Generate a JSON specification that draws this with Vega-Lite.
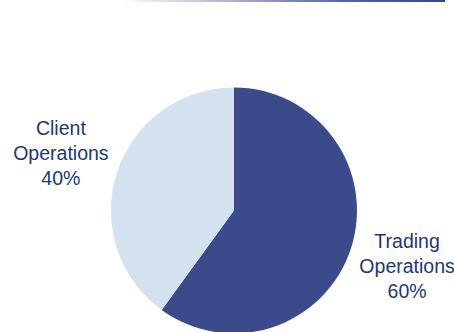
{
  "$schema": "https://vega.github.io/schema/vega-lite/v6.json",
  "width": 454,
  "height": 332,
  "autosize": {"type": "fit", "contains": "padding"},
  "padding": 0,
  "background": "white",
  "config": {"view": {"stroke": null}},
  "data": {
    "values": [
      {"category": "Trading Operations", "value": 60, "label": "Trading\nOperations\n60%", "ord": 1},
      {"category": "Client Operations", "value": 40, "label": "Client\nOperations\n40%", "ord": 2}
    ]
  },
  "layer": [
    {
      "data": {"values": [{}]},
      "mark": {
        "type": "rect",
        "color": {
          "gradient": "linear",
          "x1": 0, "x2": 1, "y1": 0, "y2": 0,
          "stops": [
            {"offset": 0, "color": "#ffffff"},
            {"offset": 0.35, "color": "#a7aecf"},
            {"offset": 0.7, "color": "#5361a0"},
            {"offset": 1, "color": "#35458a"}
          ]
        }
      },
      "encoding": {
        "x": {"datum": 122, "type": "quantitative", "scale": {"domain": [0, 454], "nice": false, "zero": false}, "axis": null},
        "x2": {"datum": 447},
        "y": {"datum": 0, "type": "quantitative", "scale": {"domain": [0, 332], "nice": false, "zero": false, "reverse": true}, "axis": null},
        "y2": {"datum": 2}
      }
    },
    {
      "mark": {"type": "arc", "outerRadius": 123},
      "encoding": {
        "x": {"datum": 235, "type": "quantitative", "scale": {"domain": [0, 454], "nice": false, "zero": false}, "axis": null},
        "y": {"datum": 213, "type": "quantitative", "scale": {"domain": [0, 332], "nice": false, "zero": false, "reverse": true}, "axis": null},
        "theta": {"field": "value", "type": "quantitative", "stack": true},
        "order": {"field": "ord", "type": "quantitative"},
        "color": {
          "field": "category",
          "type": "nominal",
          "scale": {"domain": ["Trading Operations", "Client Operations"], "range": ["#3B4A8A", "#D4E1EF"]},
          "legend": null
        }
      }
    },
    {
      "mark": {
        "type": "text",
        "radius": 182,
        "dy": -25,
        "lineBreak": "\n",
        "font": "Liberation Sans",
        "fontSize": 19.5,
        "lineHeight": 25,
        "align": "center",
        "baseline": "middle",
        "color": "#1C3877"
      },
      "encoding": {
        "x": {"datum": 235, "type": "quantitative", "scale": {"domain": [0, 454], "nice": false, "zero": false}, "axis": null},
        "y": {"datum": 213, "type": "quantitative", "scale": {"domain": [0, 332], "nice": false, "zero": false, "reverse": true}, "axis": null},
        "theta": {"field": "value", "type": "quantitative", "stack": true},
        "order": {"field": "ord", "type": "quantitative"},
        "text": {"field": "label", "type": "nominal"}
      }
    }
  ]
}
